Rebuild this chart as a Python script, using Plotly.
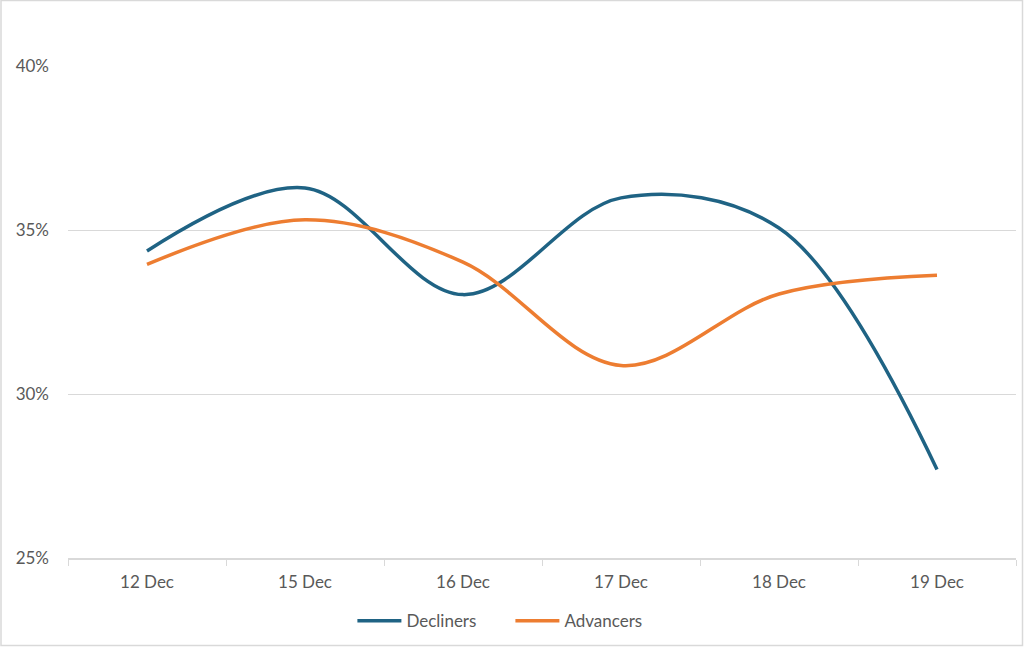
import plotly.graph_objects as go

dates = ["12 Dec", "15 Dec", "16 Dec", "17 Dec", "18 Dec", "19 Dec"]
decliners = [0.3436, 0.3628, 0.3303, 0.3598, 0.3506, 0.2770]
advancers = [0.3395, 0.3531, 0.3402, 0.3087, 0.3305, 0.3362]
y_ticks = [0.25, 0.30, 0.35, 0.40]

W, H = 1024, 647
ml, mr, mt, mb = 68, 8, 66, 89
font = dict(family="Lato, Open Sans, sans-serif", size=17, color="#595959")

fig = go.Figure()
fig.add_trace(go.Scatter(x=dates, y=decliners, name="Decliners", mode="lines",
                         line=dict(color="#1f6384", width=3.5, shape="spline", smoothing=1.0)))
fig.add_trace(go.Scatter(x=dates, y=advancers, name="Advancers", mode="lines",
                         line=dict(color="#ed7d31", width=3.5, shape="spline", smoothing=1.0)))

fig.update_layout(
    width=W, height=H,
    margin=dict(l=ml, r=mr, t=mt, b=mb),
    paper_bgcolor="white", plot_bgcolor="white",
    font=font,
    showlegend=True,
    legend=dict(orientation="h", x=0.3, xanchor="left", y=-0.092, yanchor="top",
                font=font, itemwidth=44, entrywidth=99, tracegroupgap=0),
    xaxis=dict(type="category", tickson="boundaries", ticks="outside", ticklen=6,
               tickcolor="#d9d9d9", showline=True, linecolor="#d9d9d9", linewidth=1.5,
               showgrid=False, range=[-0.5, 5.5], tickfont=font, ticklabelstandoff=8),
    yaxis=dict(range=[0.25, 0.40], tickvals=y_ticks, tickformat=".0%",
               showgrid=True, gridcolor="#d9d9d9", gridwidth=1, zeroline=False,
               showline=False, ticks="", tickfont=font, ticklabelstandoff=18),
)

# thin border around the whole chart area
pw = W - ml - mr
ph = H - mt - mb
fig.add_shape(type="rect", xref="paper", yref="paper",
              x0=-(ml - 1) / pw, x1=1 + (mr - 1.5) / pw,
              y0=-(mb - 1.5) / ph, y1=1 + (mt - 0.5) / ph,
              line=dict(color="#d9d9d9", width=1.5), layer="below")

fig.write_html("out.html", config={"displayModeBar": False},
               post_script="document.body.style.margin='0';")
